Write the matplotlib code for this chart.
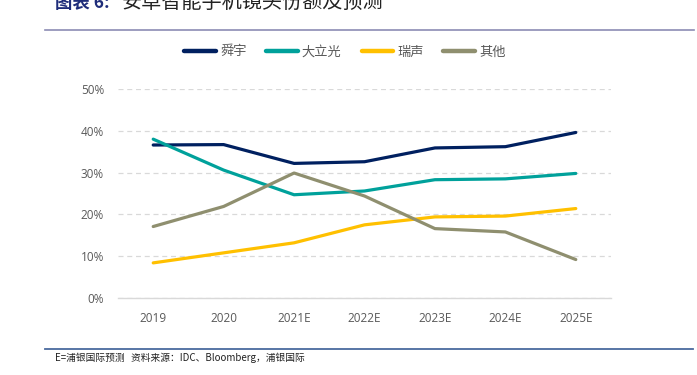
import matplotlib
matplotlib.use("Agg")
import matplotlib.pyplot as plt
from matplotlib.lines import Line2D

plt.rcParams["font.family"] = ["Noto Sans CJK SC", "DejaVu Sans"]

years = ["2019", "2020", "2021E", "2022E", "2023E", "2024E", "2025E"]
sunny = [36.6, 36.7, 32.2, 32.6, 35.9, 36.2, 39.6]
largan = [38.0, 30.6, 24.7, 25.6, 28.3, 28.5, 29.8]
aac = [8.4, 10.8, 13.2, 17.5, 19.4, 19.6, 21.4]
others = [17.1, 21.9, 29.9, 24.4, 16.6, 15.8, 9.2]

names = ["舜宇", "大立光", "瑞声", "其他"]
series = [sunny, largan, aac, others]
colors = ["#002060", "#00A19B", "#FFC000", "#8F8F6F"]

W, H = 697, 375
fig = plt.figure(figsize=(W / 100, H / 100), dpi=100)

# plot area in pixel terms
left, right, top, bottom = 118, 611, 89, 298
ax = fig.add_axes([left / W, 1 - bottom / H, (right - left) / W, (bottom - top) / H])
x = list(range(len(years)))
for s, c, n in zip(series, colors, names):
    ax.plot(x, [v / 100 for v in s], color=c, lw=2.3, label=n, solid_capstyle="round")

ax.set_xlim(-0.5, len(years) - 0.5)
ax.set_ylim(0, 0.5)
ax.set_yticks([0, 0.1, 0.2, 0.3, 0.4, 0.5])
ax.set_yticklabels(["0%", "10%", "20%", "30%", "40%", "50%"])
ax.set_xticks(x)
ax.set_xticklabels(years)
ax.tick_params(length=0, labelsize=8.5, colors="#595959", pad=10)
for lab in ax.get_xticklabels() + ax.get_yticklabels():
    lab.set_family(["Open Sans", "DejaVu Sans"])
ax.yaxis.grid(True, ls=(0, (4, 3)), color="#D9D9D9", lw=0.9)
ax.set_axisbelow(True)
for sp in ["top", "right", "left"]:
    ax.spines[sp].set_visible(False)
ax.spines["bottom"].set_color("#D9D9D9")
ax.spines["bottom"].set_linewidth(1.0)

handles = [Line2D([0], [0], color=c, lw=3.2, solid_capstyle="round") for c in colors]
fig.legend(handles, names, loc="center", bbox_to_anchor=(345 / W, 1 - 52 / H), ncol=4,
           frameon=False, fontsize=9.5, handlelength=2.4, handletextpad=0.3,
           columnspacing=1.5, labelcolor="#595959")

# header / footer
fig.text(55 / W, 1 - 3 / H, "图表 6:", color="#1F2D7A", fontsize=12.5, fontweight="bold",
         va="center", ha="left")
fig.text(122 / W, 1 - 3 / H, "安卓智能手机镜头份额及预测", color="#222222", fontsize=14.5,
         va="center", ha="left")
fig.add_artist(Line2D([45 / W, 694 / W], [1 - 29.5 / H] * 2, color="#8C8CB4", lw=1.2))
fig.add_artist(Line2D([45 / W, 693 / W], [1 - 348.5 / H] * 2, color="#4A6A9E", lw=1.3))
fig.text(55 / W, 1 - 358 / H, "E=浦银国际预测   资料来源：IDC、Bloomberg，浦银国际",
         fontsize=7, color="#222222", va="center", ha="left")

fig.savefig("out.png", dpi=100)
